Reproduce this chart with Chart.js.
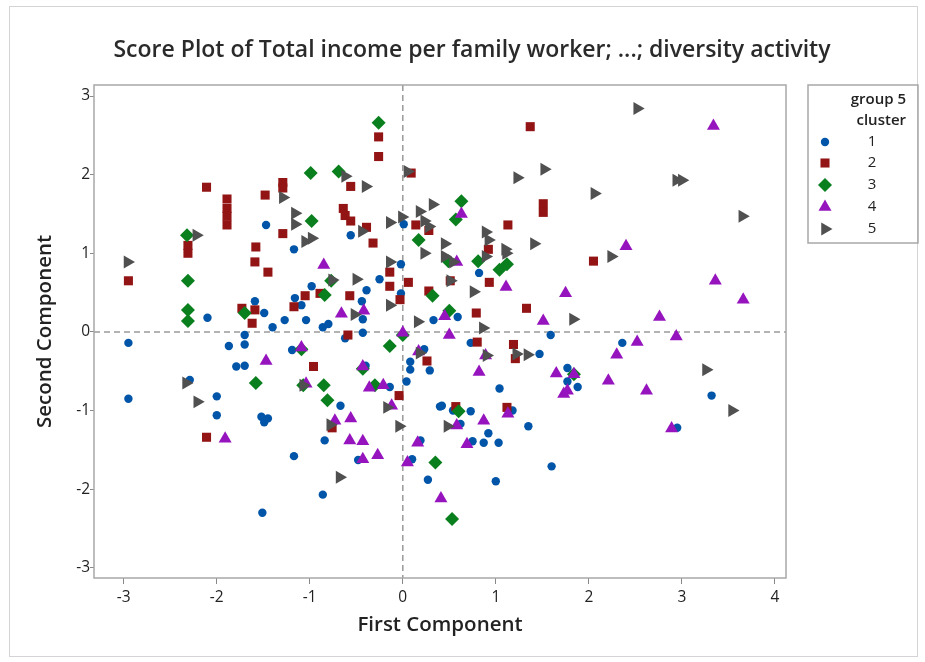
<!DOCTYPE html>
<html>
<head>
<meta charset="utf-8">
<script src="https://cdn.jsdelivr.net/npm/chart.js@4.4.0/dist/chart.umd.min.js"></script>
<style>
  html, body { margin: 0; padding: 0; background: #fff; }
  #wrap { width: 925px; height: 662px; position: relative; }
</style>
</head>
<body>
<div id="wrap"><canvas id="myChart" width="925" height="662"></canvas></div>
<script>
// score values per cluster
const cluster1 = [
  [-1.47,1.36],[0.01,1.37],[-1.17,1.05],[-0.56,1.23],[-2.10,0.18],[-1.59,0.39],[-1.49,0.24],
  [-1.70,-0.04],[-1.70,-0.16],[-1.87,-0.18],[-2.95,-0.14],[-1.79,-0.44],[-1.70,-0.43],[-2.29,-0.61],
  [-2.00,-0.82],[-2.95,-0.85],[-2.00,-1.06],[-1.52,-1.08],[-1.49,-1.15],[-1.45,-1.10],[-1.51,-2.30],
  [-0.02,0.86],[-0.25,0.67],[-0.98,0.58],[-1.16,0.43],[-0.39,0.53],[-0.44,0.39],[-0.02,0.49],
  [-1.09,0.34],[-0.43,0.16],[-1.27,0.15],[-1.04,0.15],[-1.40,0.06],[-0.86,0.06],[-0.80,0.10],
  [-0.62,-0.08],[-0.43,-0.01],[0.33,0.15],[-1.19,-0.23],[-0.40,-0.43],[0.23,-0.22],[0.08,-0.38],
  [0.08,-0.48],[0.29,-0.49],[-0.67,-0.94],[-0.14,-0.70],[0.04,-0.63],[0.40,-0.95],[-0.84,-1.38],
  [-1.17,-1.58],[-0.48,-1.63],[-0.86,-2.07],[0.19,-1.38],[0.10,-1.62],[0.27,-1.88],[0.82,0.75],
  [0.59,0.19],[1.59,-0.04],[0.73,-0.14],[1.47,-0.28],[1.04,-0.72],[1.77,-0.46],[1.77,-0.63],
  [1.88,-0.70],[0.42,-0.94],[0.54,-1.00],[0.73,-1.01],[1.18,-1.00],[0.62,-1.17],[1.35,-1.20],
  [0.92,-1.29],[0.75,-1.39],[0.87,-1.41],[1.03,-1.41],[1.60,-1.71],[1.00,-1.90],[2.36,-0.14],
  [3.32,-0.81],[2.95,-1.22]
];
const cluster2 = [
  [-2.11,1.84],[-1.89,1.69],[-1.89,1.57],[-1.89,1.47],[-1.89,1.36],[-1.48,1.74],[-2.31,1.10],
  [-2.31,1.00],[-1.58,1.08],[-0.26,2.48],[-0.26,2.23],[-0.56,1.85],[0.09,2.02],[-1.29,1.90],
  [-1.29,1.83],[-1.29,1.25],[-0.64,1.57],[-0.62,1.48],[-0.56,1.41],[-0.39,1.33],[-0.32,1.13],
  [0.14,1.36],[0.28,1.29],[1.37,2.61],[1.51,1.63],[1.51,1.52],[1.13,1.36],[0.92,1.05],
  [-2.95,0.65],[-1.59,0.89],[-1.45,0.76],[-1.73,0.30],[-1.59,0.28],[-1.62,0.11],[-0.14,0.76],
  [-0.14,0.58],[0.06,0.63],[-1.05,0.46],[-0.89,0.49],[-0.57,0.46],[-0.03,0.41],[0.28,0.52],
  [-1.17,0.32],[-0.59,-0.04],[-0.96,-0.44],[0.26,-0.37],[-0.04,-0.81],[-0.76,-1.22],[-2.11,-1.34],
  [0.51,0.65],[0.93,0.63],[2.05,0.90],[0.79,0.24],[1.33,0.30],[0.80,-0.13],[1.19,-0.16],
  [1.21,-0.34],[0.57,-0.95],[1.12,-0.96]
];
const cluster3 = [
  [-2.32,1.23],[-2.31,0.65],[-2.31,0.28],[-2.31,0.14],[-1.70,0.24],[-1.58,-0.65],[-0.26,2.66],
  [-0.99,2.02],[-0.69,2.04],[-0.98,1.41],[0.17,1.17],[0.63,1.66],[0.57,1.43],[-0.77,0.65],
  [-0.84,0.47],[0.32,0.46],[0.00,-0.04],[-0.14,-0.18],[-1.09,-0.22],[-0.43,-0.47],[-1.07,-0.68],
  [-0.85,-0.68],[-0.81,-0.87],[-0.30,-0.68],[0.49,0.90],[0.81,0.90],[1.04,0.79],[1.12,0.86],
  [0.50,0.27],[1.84,-0.54],[0.60,-1.01],[0.35,-1.66],[0.53,-2.38]
];
const cluster4 = [
  [0.63,1.50],[3.34,2.62],[2.40,1.09],[-1.47,-0.37],[-1.91,-1.36],[-0.85,0.85],[-0.66,0.23],
  [-0.42,0.27],[0.00,-0.01],[-1.09,-0.20],[-0.43,-0.44],[0.17,-0.25],[-1.04,-0.66],[-0.36,-0.71],
  [-0.21,-0.68],[-0.12,-0.94],[-0.73,-1.13],[-0.56,-1.10],[-0.57,-1.38],[-0.43,-1.39],[-0.43,-1.62],
  [-0.27,-1.57],[0.16,-1.41],[0.05,-1.66],[0.41,-2.12],[0.58,0.89],[1.11,0.57],[1.75,0.49],
  [0.45,0.20],[1.51,0.14],[0.50,-0.04],[0.89,-0.30],[0.82,-0.51],[1.65,-0.53],[1.84,-0.54],
  [1.73,-0.79],[1.77,-0.75],[2.21,-0.62],[0.58,-1.19],[0.87,-1.13],[1.13,-1.04],[0.69,-1.43],
  [3.36,0.65],[3.66,0.41],[2.76,0.19],[2.52,-0.13],[2.94,-0.06],[2.30,-0.29],[2.62,-0.75],
  [2.89,-1.23]
];
const cluster5 = [
  [-2.96,0.89],[-2.22,1.23],[-0.62,1.98],[-0.40,1.85],[0.05,2.04],[-1.29,1.71],[-1.16,1.51],
  [-1.16,1.37],[-1.05,1.15],[-0.98,1.19],[-0.44,1.28],[-0.14,1.39],[-0.01,1.46],[0.18,1.53],
  [0.32,1.62],[0.23,1.41],[0.28,1.34],[1.23,1.96],[1.52,2.07],[2.06,1.76],[0.89,1.27],
  [0.92,1.17],[0.45,1.12],[1.10,1.05],[1.41,1.12],[2.24,0.96],[2.52,2.84],[2.94,1.93],
  [3.00,1.93],[3.65,1.47],[-2.33,-0.65],[-2.21,-0.89],[-0.76,0.66],[-0.50,0.67],[-0.14,0.89],
  [0.23,1.00],[-0.14,0.34],[-0.52,0.22],[0.16,0.13],[0.18,-0.27],[-1.07,-0.68],[-0.17,-0.96],
  [-0.78,-1.18],[-0.04,-1.20],[-0.68,-1.85],[0.45,0.96],[0.54,0.89],[0.89,0.96],[1.11,1.00],
  [0.51,0.65],[0.76,0.51],[0.86,0.05],[1.83,0.16],[0.90,-0.30],[1.22,-0.28],[1.34,-0.29],
  [0.48,-1.20],[3.26,-0.48],[3.54,-1.00]
];
const clusterLabels = ['1', '2', '3', '4', '5'];
const xTicks = [-3, -2, -1, 0, 1, 2, 3, 4];
const yTicks = [-3, -2, -1, 0, 1, 2, 3];
const chartTitle = 'Score Plot of Total income per family worker; ...; diversity activity';

const colors = ['#0055a8', '#931414', '#0a7f1e', '#9614be', '#505050'];
const styles = [
  { pointStyle: 'circle', radius: 4.2, rotation: 0 },
  { pointStyle: 'rect', radius: 6.4, rotation: 0 },
  { pointStyle: 'rectRot', radius: 7, rotation: 0 },
  { pointStyle: 'triangle', radius: 7.5, rotation: 0 },
  { pointStyle: 'triangle', radius: 7.5, rotation: 90 }
];
const fontFam = '"Open Sans", "Noto Sans", sans-serif';

const allClusters = [cluster1, cluster2, cluster3, cluster4, cluster5];
const datasets = allClusters.map(function(c, i) {
  return {
    label: clusterLabels[i],
    data: c.map(p => ({ x: p[0], y: p[1] })),
    pointStyle: styles[i].pointStyle,
    pointRadius: styles[i].radius,
    pointRotation: styles[i].rotation,
    pointBackgroundColor: colors[i],
    pointBorderColor: colors[i],
    pointBorderWidth: 0,
    order: 5 - i
  };
});

// dashed zero lines, frames, title and the legend box
const extras = {
  id: 'extras',
  beforeDatasetsDraw(chart) {
    const ctx = chart.ctx, a = chart.chartArea;
    const x0 = chart.scales.x.getPixelForValue(0);
    const y0 = chart.scales.y.getPixelForValue(0);
    ctx.save();
    ctx.strokeStyle = '#9a9a9a';
    ctx.lineWidth = 1.5;
    ctx.setLineDash([6, 4]);
    ctx.beginPath();
    ctx.moveTo(x0, a.top); ctx.lineTo(x0, a.bottom);
    ctx.moveTo(a.left, y0); ctx.lineTo(a.right, y0);
    ctx.stroke();
    ctx.restore();
  },
  afterDraw(chart) {
    const ctx = chart.ctx, a = chart.chartArea;
    ctx.save();
    ctx.strokeStyle = '#a8a8a8';
    ctx.lineWidth = 1.5;
    ctx.strokeRect(a.left, a.top, a.right - a.left, a.bottom - a.top);
    ctx.strokeStyle = '#d4d4d4';
    ctx.lineWidth = 1;
    ctx.strokeRect(9.5, 6.5, 908, 650);

    ctx.fillStyle = '#2a2a2a';
    ctx.font = '600 23px ' + fontFam;
    ctx.textAlign = 'center';
    ctx.textBaseline = 'middle';
    ctx.fillText(chartTitle, 472, 50);

    // legend
    ctx.strokeStyle = '#a8a8a8';
    ctx.lineWidth = 1.5;
    ctx.strokeRect(808, a.top, 110, 158);
    ctx.fillStyle = '#222';
    ctx.font = '600 15px ' + fontFam;
    ctx.textAlign = 'right';
    ctx.fillText('group 5', 906, 100);
    ctx.fillText('cluster', 906, 121);
    ctx.font = '15px ' + fontFam;
    ctx.textAlign = 'center';
    const rows = [142, 163, 185, 207, 229];
    for (let i = 0; i < 5; i++) {
      ctx.fillStyle = colors[i];
      Chart.helpers.drawPoint(ctx, {
        pointStyle: styles[i].pointStyle,
        radius: styles[i].radius,
        rotation: styles[i].rotation,
        borderWidth: 0
      }, 825, rows[i]);
      ctx.fillStyle = '#222';
      ctx.fillText(clusterLabels[i], 872, rows[i]);
    }
    ctx.restore();
  }
};

const config = {
  type: 'scatter',
  data: { datasets: datasets },
  options: {
    responsive: false,
    animation: false,
    layout: { padding: { left: 24, right: 139, top: 85, bottom: 20 } },
    plugins: {
      legend: { display: false },
      tooltip: { enabled: false },
      title: { display: false }
    },
    scales: {
      x: {
        type: 'linear',
        min: -3.32,
        max: 4.12,
        afterFit(scale) { scale.height = 64; },
        afterBuildTicks(scale) { scale.ticks = xTicks.map(v => ({ value: v })); },
        ticks: { color: '#222', font: { family: fontFam, size: 15.5 }, padding: 4 },
        grid: { display: true, drawOnChartArea: false, drawTicks: true, tickLength: 6, color: '#888' },
        border: { display: false },
        title: {
          display: true,
          text: 'First Component',
          color: '#222',
          font: { family: fontFam, size: 20.5, weight: '600' },
          padding: { top: 4, bottom: 5 }
        }
      },
      y: {
        type: 'linear',
        min: -3.13,
        max: 3.14,
        afterFit(scale) { scale.width = 70; },
        afterBuildTicks(scale) { scale.ticks = yTicks.map(v => ({ value: v })); },
        ticks: { color: '#222', font: { family: fontFam, size: 15.5 }, padding: 0 },
        grid: { display: true, drawOnChartArea: false, drawTicks: true, tickLength: 4, color: '#888' },
        border: { display: false },
        title: {
          display: true,
          text: 'Second Component',
          color: '#222',
          font: { family: fontFam, size: 20.5, weight: '600' },
          padding: { top: 9, bottom: 4 }
        }
      }
    }
  },
  plugins: [extras]
};

const myChart = new Chart(document.getElementById('myChart'), config);
</script>
</body>
</html>
